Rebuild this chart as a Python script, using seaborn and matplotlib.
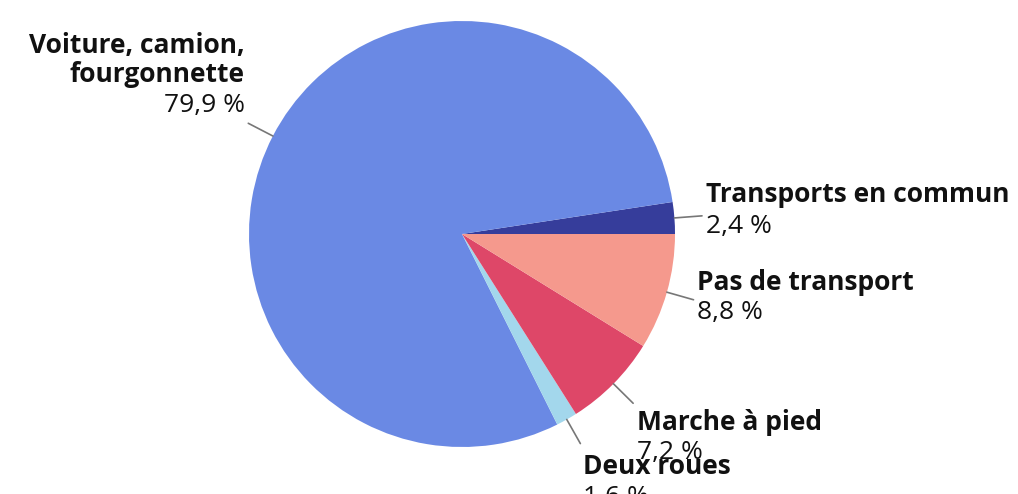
import numpy as np
import matplotlib
matplotlib.use('Agg')
import matplotlib.pyplot as plt
import seaborn as sns

sns.set_theme(style='white')
plt.rcParams['font.family'] = ['Open Sans', 'DejaVu Sans']

# data
categories = ['Transports en commun', 'Voiture, camion,\nfourgonnette', 'Deux roues',
              'Marche à pied', 'Pas de transport']
values = [2.4, 79.9, 1.6, 7.2, 8.8]
pct_labels = ['2,4 %', '79,9 %', '1,6 %', '7,2 %', '8,8 %']
colors = ['#363d9b', '#6a89e4', '#a3d7ec', '#de4768', '#f5998d']

# label layout (pixel coords, y from top), alignment
label_pos = [(706, 195, 'left'), (245, 60, 'right'), (583, 466, 'left'),
             (637, 422, 'left'), (697, 282, 'left')]

W, H = 1018, 494
fig = plt.figure(figsize=(W / 100, H / 100), dpi=100)
ax = fig.add_axes([0, 0, 1, 1])

cx, cy, r = 462, H - 234, 213
wedges, _ = ax.pie(values, colors=colors, startangle=0, counterclock=True,
                   center=(cx, cy), radius=r, wedgeprops=dict(linewidth=0))

total = sum(values)
start = 0
for i, v in enumerate(values):
    mid = np.deg2rad(start + v / total * 360 / 2)
    start += v / total * 360
    x0, y0 = cx + r * np.cos(mid), cy + r * np.sin(mid)
    x1, y1 = cx + 1.13 * r * np.cos(mid), cy + 1.13 * r * np.sin(mid)
    ax.plot([x0, x1], [y0, y1], color='#777777', lw=1.2)

    lx, ly, ha = label_pos[i]
    nlines = categories[i].count('\n') + 1
    ax.text(lx, H - ly, categories[i], ha=ha, va='center', fontsize=19,
            fontweight='bold', color='#111111', linespacing=1.08)
    py = ly + 15 * (nlines - 1) + 31
    ax.text(lx, H - py, pct_labels[i], ha=ha, va='center', fontsize=19,
            color='#111111')

ax.set_xlim(0, W)
ax.set_ylim(0, H)
ax.set_aspect('equal')
ax.axis('off')

fig.savefig('out.png', dpi=100)
